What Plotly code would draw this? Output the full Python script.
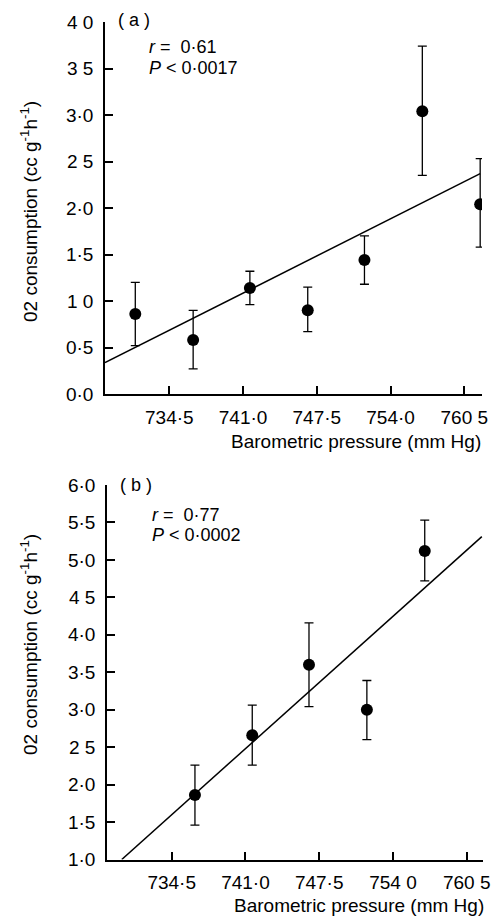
import plotly.graph_objects as go

W, H = 495, 917

# ---- Panel (a) data ----
xa = [731.5, 736.6, 741.6, 746.7, 751.7, 756.8, 761.9]
ya = [0.86, 0.58, 1.14, 0.90, 1.44, 3.04, 2.04]
ya_hi = [1.20, 0.90, 1.32, 1.15, 1.70, 3.74, 2.53]
ya_lo = [0.52, 0.27, 0.96, 0.67, 1.18, 2.35, 1.58]
fit_a_x = [728.83, 761.9]
fit_a_y = [0.337, 2.37]

# ---- Panel (b) data ----
xb = [736.55, 741.6, 746.6, 751.7, 756.8]
yb = [1.86, 2.66, 3.60, 3.00, 5.12]
yb_hi = [2.26, 3.06, 4.16, 3.39, 5.53]
yb_lo = [1.46, 2.26, 3.04, 2.60, 4.72]
fit_b_x = [730.1, 761.83]
fit_b_y = [1.0, 5.31]

x_tickvals = [734.5, 741.0, 747.5, 754.0, 760.5]
xa_ticktext = ["734·5", "741·0", "747·5", "754·0", "760 5"]
xb_ticktext = ["734·5", "741·0", "747·5", "754 0", "760 5"]
ya_tickvals = [0, 0.5, 1.0, 1.5, 2.0, 2.5, 3.0, 3.5, 4.0]
ya_ticktext = ["0·0", "0·5", "1 0", "1·5", "2·0", "2 5", "3·0", "3 5", "4 0"]
yb_tickvals = [1.0, 1.5, 2.0, 2.5, 3.0, 3.5, 4.0, 4.5, 5.0, 5.5, 6.0]
yb_ticktext = ["1·0", "1·5", "2·0", "2 5", "3·0", "3·5", "4·0", "4 5", "5·0", "5·5", "6·0"]

FONT = "Liberation Sans, Arial, sans-serif"
FS_TICK = 19
FS_TXT = 18

fig = go.Figure()

def add_panel(x, y, hi, lo, fx, fy, xa_name, ya_name):
    fig.add_trace(go.Scatter(
        x=fx, y=fy, mode="lines", line=dict(color="black", width=1.5),
        xaxis=xa_name, yaxis=ya_name, showlegend=False, hoverinfo="skip"))
    fig.add_trace(go.Scatter(
        x=x, y=y, mode="markers",
        marker=dict(color="black", size=12),
        error_y=dict(type="data", symmetric=False,
                     array=[h - v for h, v in zip(hi, y)],
                     arrayminus=[v - l for v, l in zip(y, lo)],
                     color="black", thickness=1.3, width=4.5),
        xaxis=xa_name, yaxis=ya_name, showlegend=False))

add_panel(xa, ya, ya_hi, ya_lo, fit_a_x, fit_a_y, "x", "y")
add_panel(xb, yb, yb_hi, yb_lo, fit_b_x, fit_b_y, "x2", "y2")

def px_x(p):
    return p / W

def px_y(p):
    return 1 - p / H

axis_common = dict(showline=True, linecolor="black", linewidth=1.5,
                   ticks="inside", ticklen=8, tickwidth=1.5, tickcolor="black",
                   showgrid=False, zeroline=False, automargin=False,
                   tickfont=dict(family=FONT, size=FS_TICK, color="black"))

fig.update_layout(
    width=W, height=H,
    margin=dict(l=0, r=0, t=0, b=0),
    paper_bgcolor="white", plot_bgcolor="white",
    font=dict(family=FONT, size=FS_TXT, color="black"),
    xaxis=dict(domain=[px_x(105), px_x(482)], range=[728.83, 762.06],
               tickmode="array", tickvals=x_tickvals, ticktext=xa_ticktext,
               anchor="y", ticklabelstandoff=5, **axis_common),
    yaxis=dict(domain=[px_y(394), px_y(22)], range=[0, 4.0],
               tickmode="array", tickvals=ya_tickvals, ticktext=ya_ticktext,
               anchor="x", ticklabelstandoff=6, **axis_common),
    xaxis2=dict(domain=[px_x(107), px_x(483.3)], range=[728.8, 761.96],
                tickmode="array", tickvals=x_tickvals, ticktext=xb_ticktext,
                anchor="y2", ticklabelstandoff=5, **axis_common),
    yaxis2=dict(domain=[px_y(859.5), px_y(485)], range=[1.0, 6.0],
                tickmode="array", tickvals=yb_tickvals, ticktext=yb_ticktext,
                anchor="x2", ticklabelstandoff=6, **axis_common),
)

def ann(text, x, y, xanchor="left", yanchor="middle", angle=0, size=FS_TXT):
    fig.add_annotation(text=text, x=px_x(x), y=px_y(y), xref="paper", yref="paper",
                       xanchor=xanchor, yanchor=yanchor, showarrow=False,
                       textangle=angle, font=dict(family=FONT, size=size, color="black"))

ytitle = "02 consumption (cc g<sup>-1</sup>h<sup>-1</sup>)"
xtitle = "Barometric pressure (mm Hg)"

# panel a texts
ann("( a )", 116, 20)
ann("<i>r</i> =  0·61", 147, 47)
ann("<i>P</i> < 0·0017", 147, 68)
ann(ytitle, 29, 212, xanchor="center", angle=-90, size=FS_TICK)
ann(xtitle, 483, 441, xanchor="right", size=FS_TICK)

# panel b texts
ann("( b )", 118, 485)
ann("<i>r</i> =  0·77", 150, 515)
ann("<i>P</i> < 0·0002", 150, 535)
ann(ytitle, 29, 645, xanchor="center", angle=-90, size=FS_TICK)
ann(xtitle, 486, 905, xanchor="right", size=FS_TICK)

fig.write_html("out.html")
